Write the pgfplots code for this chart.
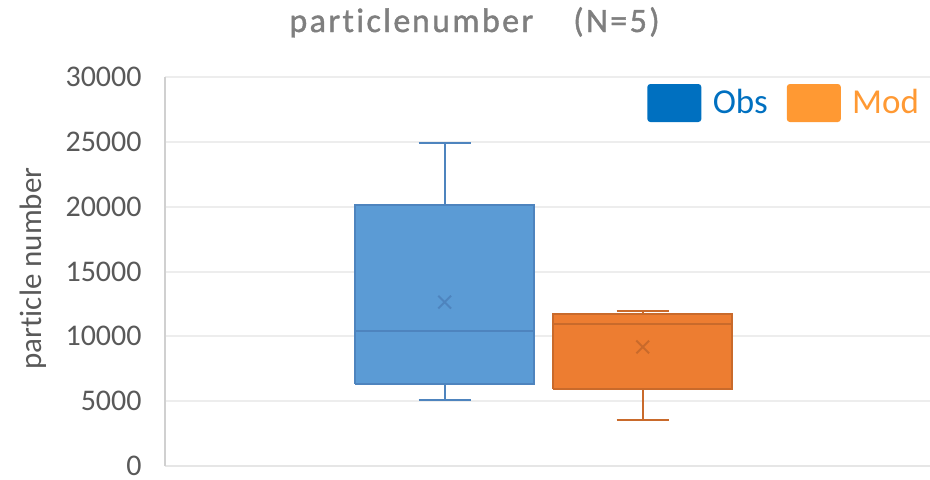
\documentclass[border=0pt]{standalone}
\usepackage{pgfplots}
\pgfplotsset{compat=1.18}
\usepackage{fontspec}
\setmainfont[Ligatures={NoCommon}]{Carlito}
\newfontfamily\titlefont[LetterSpace=7, FakeBold=1.2, Ligatures={NoCommon}]{Carlito}

\definecolor{obsfill}{HTML}{5B9BD5}
\definecolor{obsline}{HTML}{4E84BE}
\definecolor{modfill}{HTML}{ED7D31}
\definecolor{modline}{HTML}{C96A2B}
\definecolor{obsleg}{HTML}{0070C0}
\definecolor{modleg}{HTML}{FF9933}
\definecolor{labelgray}{HTML}{595959}
\definecolor{titlegray}{HTML}{7F7F7F}
\definecolor{gridc}{HTML}{EDEDED}
\definecolor{yaxisc}{HTML}{D0D0D0}
\definecolor{xaxisc}{HTML}{E6E6E6}

\begin{document}
\begin{tikzpicture}
\useasboundingbox (-82.5pt,-6.5pt) rectangle (382.5pt,233pt);
\begin{axis}[
  scale only axis,
  width=382.5pt, height=194.5pt,
  xmin=0, xmax=1, ymin=0, ymax=30000,
  xtick=\empty,
  ytick={0,5000,...,30000},
  scaled y ticks=false,
  axis x line*=bottom, axis y line*=left,
  x axis line style={draw=xaxisc, line width=1pt},
  y axis line style={draw=yaxisc, line width=1pt},
  ymajorgrids,
  grid style={draw=gridc, line width=1pt},
  major tick length=0pt,
  /pgf/number format/assume math mode=true,
  /pgf/number format/1000 sep={},
  yticklabel style={font=\fontsize{15}{18}\selectfont, text=labelgray,
    anchor=east, inner sep=0pt, xshift=-11.5pt},
  ylabel={particle number},
  ylabel style={at={(axis description cs:-0.1725,0.5077)}, anchor=center,
    font=\fontsize{15.5}{18}\selectfont, text=labelgray},
  title={particle\hspace{0.8pt}number\hspace{20pt}(N=5)},
  title style={at={(axis description cs:0.4046,1)}, anchor=base, yshift=16.5pt,
    font=\titlefont\fontsize{17}{20}\selectfont, text=titlegray},
  legend columns=2,
  legend image code/.code={
    \fill[#1, draw=none, rounded corners=1.5pt] (0pt,-4.35pt) rectangle (27pt,14.65pt);
    \path (32.5pt,0pt);},
  legend style={draw=none, fill=none, inner sep=0pt, outer sep=0pt,
    at={(axis description cs:1,1)}, anchor=north east,
    xshift=-5.5pt, yshift=-3.5pt,
    font=\fontsize{17.5}{20}\selectfont,
    nodes={inner sep=0pt, anchor=base west},
    /tikz/every even column/.append style={column sep=9.5pt}},
  obsstyle/.style={draw=obsline, line width=1pt, forget plot},
  modstyle/.style={draw=modline, line width=1pt, forget plot},
]

% Obs: whiskers 5080 / 24900, quartiles 6300 / 20150, median 10450, mean 12640
\addplot[obsstyle] coordinates {(0.3656,20150) (0.3656,24900)};
\addplot[obsstyle] coordinates {(0.3316,24900) (0.3996,24900)};
\addplot[obsstyle] coordinates {(0.3656,6300) (0.3656,5080)};
\addplot[obsstyle] coordinates {(0.3316,5080) (0.3996,5080)};
\addplot[obsstyle, fill=obsfill] coordinates
  {(0.24885,6300) (0.48235,6300) (0.48235,20150) (0.24885,20150) (0.24885,6300)};
\addplot[obsstyle] coordinates {(0.24885,10450) (0.48235,10450)};

% Mod: whiskers 3540 / 11920, quartiles 5970 / 11740, median 10920, mean 9180
\addplot[modstyle] coordinates {(0.6245,11740) (0.6245,11920)};
\addplot[modstyle] coordinates {(0.5905,11920) (0.6585,11920)};
\addplot[modstyle] coordinates {(0.6245,5970) (0.6245,3540)};
\addplot[modstyle] coordinates {(0.5905,3540) (0.6585,3540)};
\addplot[modstyle, fill=modfill] coordinates
  {(0.50775,5970) (0.74125,5970) (0.74125,11740) (0.50775,11740) (0.50775,5970)};
\addplot[modstyle] coordinates {(0.50775,10920) (0.74125,10920)};

% means
\addplot[only marks, mark=x, mark size=4.5pt, draw=obsline,
  mark options={line width=1pt}, forget plot] coordinates {(0.3656,12640)};
\addplot[only marks, mark=x, mark size=4.5pt, draw=modline,
  mark options={line width=1pt}, forget plot] coordinates {(0.6245,9180)};

\addlegendimage{fill=obsleg}
\addlegendentry[text=obsleg]{Obs}
\addlegendimage{fill=modleg}
\addlegendentry[text=modleg]{Mod}
\end{axis}
\end{tikzpicture}
\end{document}
